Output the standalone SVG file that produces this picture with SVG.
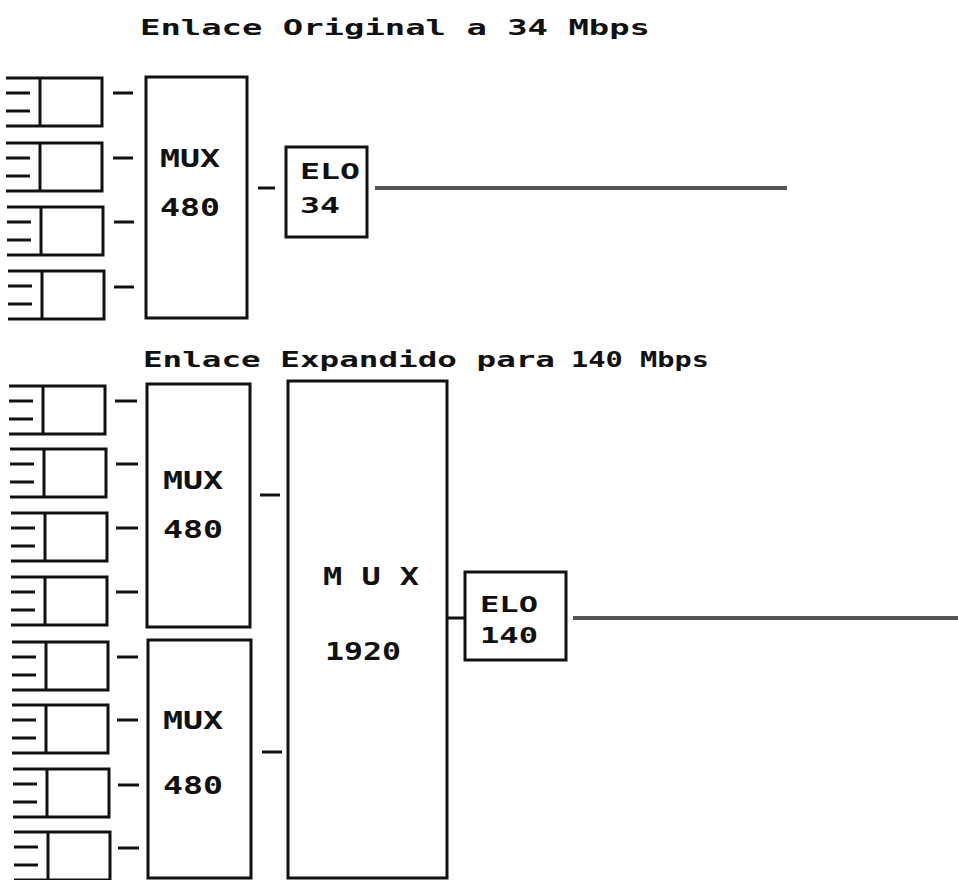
<svg xmlns="http://www.w3.org/2000/svg" xmlns:xlink="http://www.w3.org/1999/xlink" width="958" height="880" viewBox="0 0 958 880">
<style>
.bx{fill:none;stroke:#111;stroke-width:3;stroke-linejoin:miter}
.cn{stroke:#111;stroke-width:3;fill:none}
.ln{stroke:#555;stroke-width:4;fill:none}
.ttl{font-family:"DejaVu Sans Mono","Liberation Mono",monospace;font-weight:bold;font-size:21px;fill:#111}
.lb{font-family:"DejaVu Sans Mono","Liberation Mono",monospace;font-weight:bold;font-size:25px;fill:#111}
.lbs{font-family:"DejaVu Sans Mono","Liberation Mono",monospace;font-weight:bold;font-size:22px;fill:#111}
</style>
<defs>
<path id="trib" class="bx" d="M-34,0 H62 V48 H-34 M0,0 V48 M-34,15 h24 M-34,33 h24"/>
</defs>
<rect width="958" height="880" fill="#fff"/>

<text class="ttl" x="140" y="35" textLength="510" lengthAdjust="spacingAndGlyphs">Enlace Original  a 34 Mbps</text>
<text class="ttl" x="143" y="367" textLength="412" lengthAdjust="spacingAndGlyphs">Enlace Expandido para</text>
<text class="ttl" x="571" y="367" textLength="138" lengthAdjust="spacingAndGlyphs">140 Mbps</text>

<g id="trib-a1"><use href="#trib" x="40" y="78"/></g>
<g id="trib-a2"><use href="#trib" x="40" y="143"/></g>
<g id="trib-a3"><use href="#trib" x="41" y="207"/></g>
<g id="trib-a4"><use href="#trib" x="42" y="271"/></g>

<g id="mux480-a">
<rect class="bx" x="146" y="77" width="101" height="241"/>
<text class="lb" x="160" y="167" textLength="60" lengthAdjust="spacingAndGlyphs">MUX</text>
<text class="lb" x="160" y="216" textLength="60" lengthAdjust="spacingAndGlyphs">480</text>
</g>

<g id="elo34">
<rect class="bx" x="286" y="147" width="81" height="90"/>
<text class="lbs" x="300" y="179" textLength="60" lengthAdjust="spacingAndGlyphs">ELO</text>
<text class="lbs" x="300" y="213" textLength="40" lengthAdjust="spacingAndGlyphs">34</text>
</g>

<g id="trib-b1"><use href="#trib" x="43" y="386"/></g>
<g id="trib-b2"><use href="#trib" x="44" y="449"/></g>
<g id="trib-b3"><use href="#trib" x="45" y="513"/></g>
<g id="trib-b4"><use href="#trib" x="45" y="577"/></g>
<g id="trib-b5"><use href="#trib" x="46" y="642"/></g>
<g id="trib-b6"><use href="#trib" x="46" y="705"/></g>
<g id="trib-b7"><use href="#trib" x="47" y="769"/></g>
<g id="trib-b8"><use href="#trib" x="48" y="832"/></g>

<g id="mux480-b">
<rect class="bx" x="147" y="384" width="103" height="243"/>
<text class="lb" x="163" y="489" textLength="60" lengthAdjust="spacingAndGlyphs">MUX</text>
<text class="lb" x="163" y="538" textLength="60" lengthAdjust="spacingAndGlyphs">480</text>
</g>

<g id="mux480-c">
<rect class="bx" x="148" y="640" width="103" height="238"/>
<text class="lb" x="163" y="729" textLength="60" lengthAdjust="spacingAndGlyphs">MUX</text>
<text class="lb" x="163" y="794" textLength="60" lengthAdjust="spacingAndGlyphs">480</text>
</g>

<g id="mux1920">
<rect class="bx" x="288" y="381" width="159" height="497"/>
<text class="lb" x="323" y="585" textLength="96" lengthAdjust="spacingAndGlyphs">M U X</text>
<text class="lb" x="325" y="660" textLength="76" lengthAdjust="spacingAndGlyphs">1920</text>
</g>

<g id="elo140">
<rect class="bx" x="465" y="572" width="101" height="88"/>
<text class="lbs" x="480" y="612" textLength="58" lengthAdjust="spacingAndGlyphs">ELO</text>
<text class="lbs" x="480" y="643" textLength="58" lengthAdjust="spacingAndGlyphs">140</text>
</g>

<g id="connectors">
<path class="cn" d="M113,93 h20 M113,158 h20 M114,222 h20 M114,287 h20"/>
<path class="cn" d="M258,188 h17"/>
<path class="ln" d="M375,188 H787"/>
<path class="cn" d="M115,401 h22 M116,464 h22 M116,528 h22 M116,592 h22 M117,657 h21 M117,720 h21 M118,785 h21 M118,848 h21"/>
<path class="cn" d="M260,495 h20 M262,752 h20"/>
<path class="cn" d="M447,618 H465"/>
<path class="ln" d="M573,618 H958"/>
</g>
</svg>
